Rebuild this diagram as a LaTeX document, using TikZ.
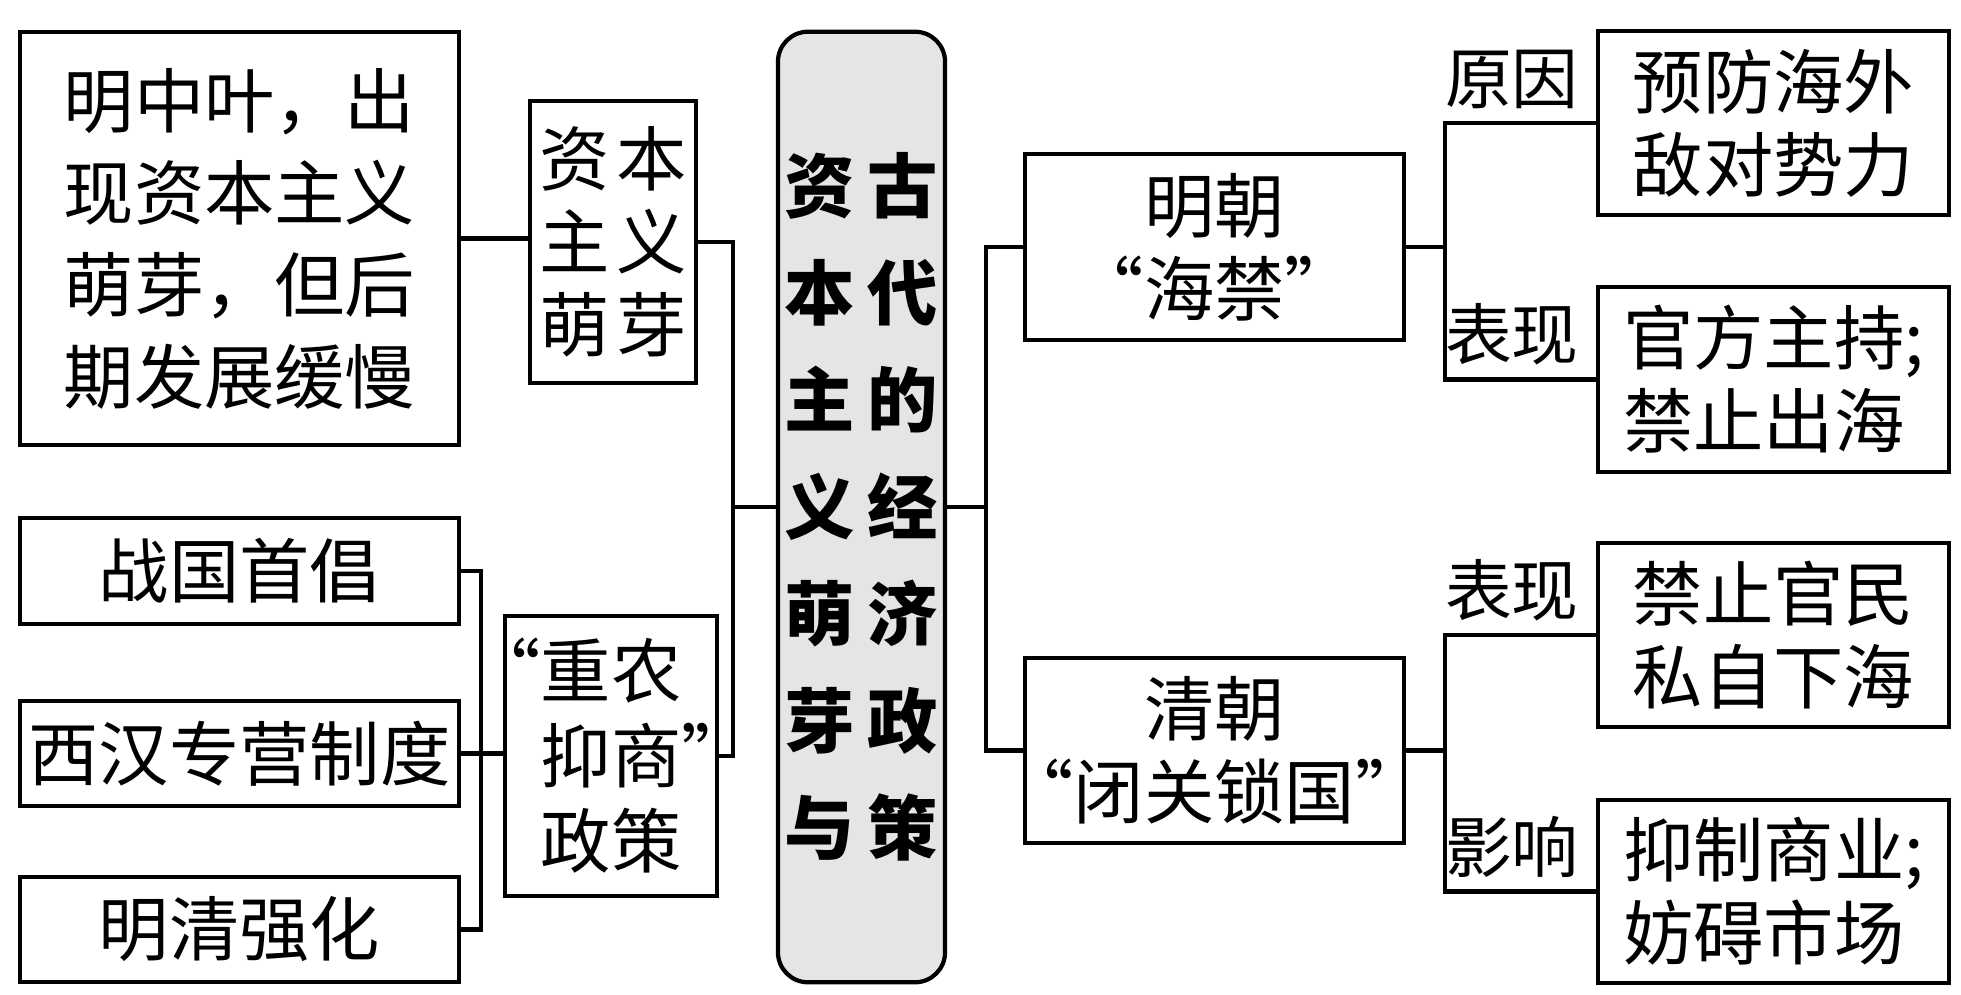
\documentclass[tikz,border=0pt]{standalone}
\usepackage{fontspec}
\setmainfont{Noto Sans CJK SC}
\definecolor{titlegray}{gray}{0.9}

\begin{document}
\begin{tikzpicture}[
        x=0.01cm, y=-0.01cm, line width=1.2pt,
        box/.style={draw, inner sep=0pt, align=center, font=\fontsize{20pt}{0.83cm}\selectfont},
        lab/.style={inner xsep=0.15cm, inner ysep=0.12cm, font=\fontsize{19pt}{0.83cm}\selectfont}
    ]
        \useasboundingbox (0,0) rectangle (1961,994);

        % 中间标题
        \node[box, rounded corners=0.3cm, fill=titlegray, minimum width=1.67cm, minimum height=9.5cm,
              font=\bfseries\fontsize{20pt}{1.07cm}\selectfont] (title) at (861.5,507)
            {资\hspace{0.13cm}古\\本\hspace{0.13cm}代\\主\hspace{0.13cm}的\\义\hspace{0.13cm}经\\萌\hspace{0.13cm}济\\芽\hspace{0.13cm}政\\与\hspace{0.13cm}策};

        % 左侧
        \node[box, minimum width=4.39cm, minimum height=4.13cm, font=\fontsize{20pt}{0.92cm}\selectfont] (ming) at (239.5,238.5)
            {明中叶，出\\现资本主义\\萌芽，但后\\期发展缓慢};
        \node[box, minimum width=1.66cm, minimum height=2.82cm] (mengya) at (613,242)
            {资\hspace{2pt}本\\主\hspace{2pt}义\\萌\hspace{2pt}芽};
        \node[box, minimum width=4.39cm, minimum height=1.06cm] (zhanguo) at (239.5,571) {战国首倡};
        \node[box, minimum width=4.39cm, minimum height=1.05cm] (xihan) at (239.5,753.5) {西汉专营制度};
        \node[box, minimum width=4.39cm, minimum height=1.05cm] (mingqing) at (239.5,929.5) {明清强化};
        \node[box, minimum width=2.12cm, minimum height=2.8cm, font=\fontsize{20pt}{0.85cm}\selectfont] (zhongnong) at (611,756)
            {\llap{“}重农\\抑商\rlap{”}\\政策};

        % 右侧
        \node[box, minimum width=3.79cm, minimum height=1.86cm] (haijin) at (1214.5,247) {明朝\\“海禁”};
        \node[box, minimum width=3.79cm, minimum height=1.85cm] (biguan) at (1214.5,750.5)
            {清朝\\\makebox[0.5em][r]{“}闭关锁国\makebox[0.5em][l]{”}};
        \node[box, minimum width=3.51cm, minimum height=1.84cm] (fangfan) at (1773.5,123) {预防海外\\敌对势力};
        \node[box, align=left, minimum width=3.51cm, minimum height=1.85cm] (guanfang) at (1773.5,379.5) {官方主持;\\禁止出海};
        \node[box, minimum width=3.51cm, minimum height=1.84cm] (jinzhi) at (1773.5,635) {禁止官民\\私自下海};
        \node[box, align=left, minimum width=3.51cm, minimum height=1.83cm] (yizhi) at (1773.5,891.5) {抑制商业;\\妨碍市场};

        \node[lab, anchor=south east] (yuanyin) at (fangfan.west) {原因};
        \node[lab, anchor=south east] (biaoxian1) at (guanfang.west) {表现};
        \node[lab, anchor=south east] (biaoxian2) at (jinzhi.west) {表现};
        \node[lab, anchor=south east] (yingxiang) at (yizhi.west) {影响};

        % 连线
        \coordinate (lb) at (481,0);
        \coordinate (lm) at (733,0);
        \coordinate (rm) at (986,0);
        \coordinate (rr) at (1445,0);

        \draw (ming.east) -- (ming.east -| mengya.west);
        \draw (zhanguo.east) -| (lb |- mingqing.east) -- (mingqing.east);
        \draw (xihan.east) -- (xihan.east -| zhongnong.west);
        \draw (mengya.east) -| (lm |- zhongnong.east) -- (zhongnong.east);
        \draw (title.west) -- (title.west -| lm);

        \draw (title.east) -- (title.east -| rm);
        \draw (haijin.west) -| (rm |- biguan.west) -- (biguan.west);
        \draw (haijin.east) -- (haijin.east -| rr);
        \draw (fangfan.west) -| (rr |- guanfang.west) -- (guanfang.west);
        \draw (biguan.east) -- (biguan.east -| rr);
        \draw (jinzhi.west) -| (rr |- yizhi.west) -- (yizhi.west);
    \end{tikzpicture}
\end{document}
